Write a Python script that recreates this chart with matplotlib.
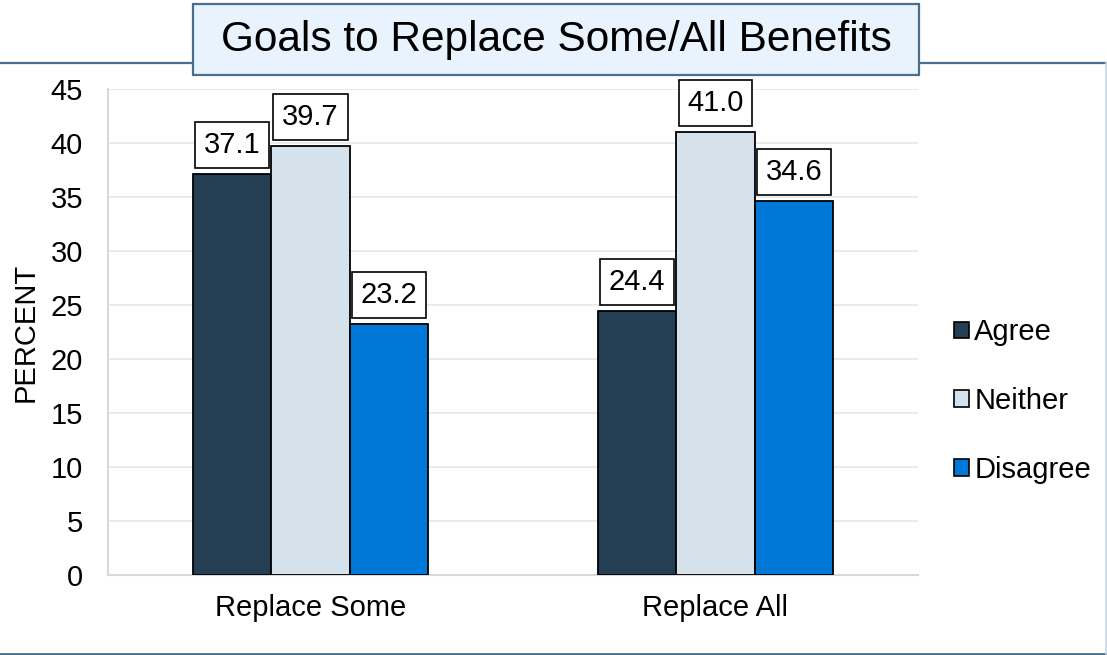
import matplotlib
matplotlib.use("Agg")
import matplotlib.pyplot as plt
import matplotlib.patches as patches
import numpy as np

plt.rcParams['font.family'] = ['Liberation Sans', 'DejaVu Sans']

# Данные
categories = ["Replace Some", "Replace All"]
series_names = ["Agree", "Neither", "Disagree"]
agree = [37.1, 24.4]
neither = [39.7, 41.0]
disagree = [23.2, 34.6]
colors = ["#243F53", "#D5E2EC", "#0078D7"]

W, H = 1107, 655
fig = plt.figure(figsize=(W / 100, H / 100), dpi=100)

# внешняя рамка: верх и низ синие, правый край светлый
frame_color = "#4A6E8E"
fig.add_artist(plt.Line2D([0, 1], [1 - 63 / H, 1 - 63 / H], transform=fig.transFigure,
                          color=frame_color, lw=1.6, zorder=0))
fig.add_artist(plt.Line2D([0, 1], [1.5 / H, 1.5 / H], transform=fig.transFigure,
                          color=frame_color, lw=2, zorder=0))
fig.add_artist(plt.Line2D([1 - 1.5 / W, 1 - 1.5 / W], [1.5 / H, 1 - 63 / H], transform=fig.transFigure,
                          color="#C9D6E2", lw=1.2, zorder=0))

ax = fig.add_axes([108 / W, 80 / H, 810 / W, 486 / H])

x = np.arange(len(categories))
width = 0.194
for i, (name, vals) in enumerate(zip(series_names, [agree, neither, disagree])):
    pos = x + (i - 1) * width
    ax.bar(pos, vals, width, color=colors[i], edgecolor="black", linewidth=1.3,
           label=name, zorder=3)
    for px, v in zip(pos, vals):
        ax.annotate(f"{v:.1f}", (px, v), xytext=(0, 11), textcoords="offset points",
                    ha="center", va="bottom", fontsize=21, zorder=4,
                    bbox=dict(boxstyle="square,pad=0.3", fc="white", ec="black", lw=1.2))

ax.set_xlim(-0.5, 1.5)
ax.set_ylim(0, 45)
ax.set_yticks(range(0, 46, 5))
ax.set_xticks(x)
ax.set_xticklabels(categories, fontsize=21)
ax.tick_params(axis="y", labelsize=21, length=0, pad=18)
ax.tick_params(axis="x", length=0, pad=14)
ax.set_ylabel("PERCENT", fontsize=21, labelpad=8)
ax.grid(axis="y", color="#E6E6E6", linewidth=1.2, zorder=0)
for s in ["top", "right"]:
    ax.spines[s].set_visible(False)
for s in ["left", "bottom"]:
    ax.spines[s].set_color("#D9D9D9")
    ax.spines[s].set_linewidth(1.5)

leg = ax.legend(loc="center left", bbox_to_anchor=(1.03, 0.358), frameon=False,
                fontsize=21, handlelength=0.5, handleheight=0.5, handletextpad=0.2,
                labelspacing=1.4, borderaxespad=0)
for h in leg.legend_handles:
    h.set_linewidth(1.2)

# заголовок в рамке
title_box = patches.Rectangle((193 / W, (H - 75) / H), 726 / W, 71 / H, transform=fig.transFigure,
                              facecolor="#E8F3FD", edgecolor=frame_color, linewidth=1.6, zorder=5)
fig.patches.append(title_box)
fig.text(556 / W, (H - 40) / H, "Goals to Replace Some/All Benefits", ha="center", va="center",
         fontsize=30.5, zorder=6)

fig.savefig("out.png", dpi=100)
